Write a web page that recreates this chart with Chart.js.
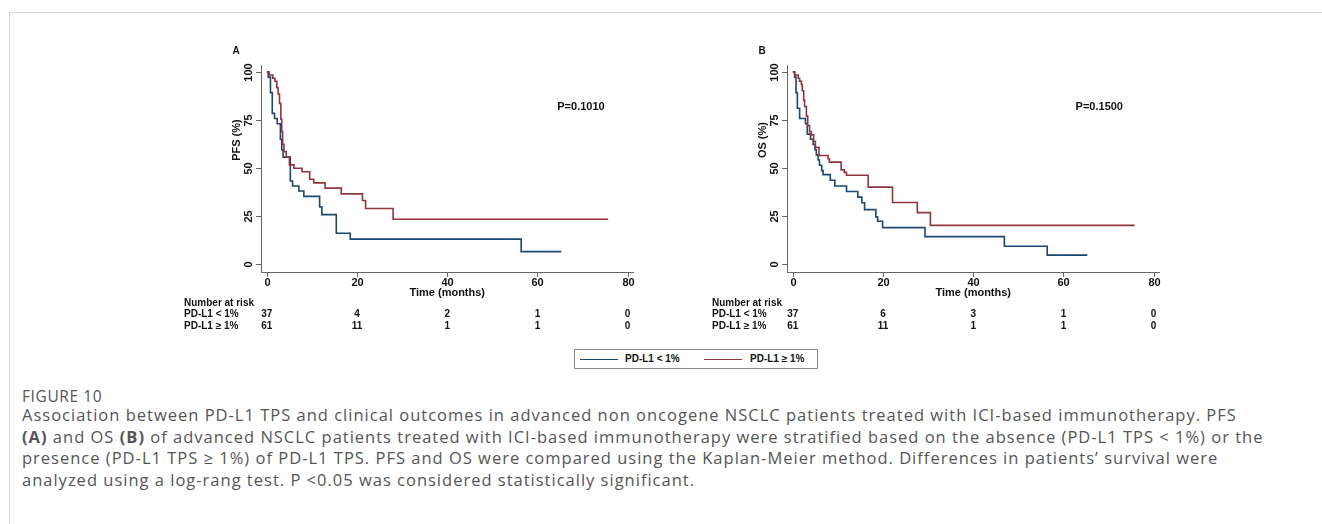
<!DOCTYPE html>
<html>
<head>
<meta charset="utf-8">
<script src="https://cdn.jsdelivr.net/npm/chart.js@4.4.0/dist/chart.umd.min.js"></script>
<style>
  body{margin:0;background:#fff;width:1322px;height:524px;overflow:hidden;position:relative;font-family:'Liberation Sans',Arial,sans-serif}
  #frame{position:absolute;left:9px;top:12px;width:1320px;height:520px;border-left:1px solid #d6d6d6;border-top:1px solid #d6d6d6}
  .panel{position:absolute;top:36px;width:500px;height:300px}
  #legend{position:absolute;left:574px;top:349px;width:242px;height:18px;border:1px solid #8a8a8a;font:bold 10px 'Liberation Sans',Arial,sans-serif;color:#111}
  #legend .ln{position:absolute;top:9px;width:38px;height:0;border-top:1.5px solid}
  #legend .tx{position:absolute;top:3px}
  .cap{position:absolute;left:22px;white-space:nowrap;font-family:'Open Sans',sans-serif;font-size:16.5px;letter-spacing:1px;line-height:22px;color:#555}
  #figno{position:absolute;left:22px;top:385px;font-family:'Open Sans',sans-serif;font-size:15.5px;letter-spacing:0.6px;line-height:22px;color:#555}
</style>
</head>
<body>
<div id="frame"></div>
<canvas id="pfs" class="panel" style="left:160px" width="500" height="300"></canvas>
<canvas id="os" class="panel" style="left:688px" width="500" height="300"></canvas>
<div id="legend">
  <div class="ln" style="left:5px;border-color:#1a476f"></div><div class="tx" style="left:50px">PD-L1 &lt; 1%</div>
  <div class="ln" style="left:129px;border-color:#90353b"></div><div class="tx" style="left:175px">PD-L1 ≥ 1%</div>
</div>
<div id="figno">FIGURE 10</div>
<div class="cap" style="top:404px">Association between PD-L1 TPS and clinical outcomes in advanced non oncogene NSCLC patients treated with ICI-based immunotherapy. PFS</div>
<div class="cap" style="top:426px"><b>(A)</b> and OS <b>(B)</b> of advanced NSCLC patients treated with ICI-based immunotherapy were stratified based on the absence (PD-L1 TPS &lt; 1%) or the</div>
<div class="cap" style="top:447px">presence (PD-L1 TPS ≥ 1%) of PD-L1 TPS. PFS and OS were compared using the Kaplan-Meier method. Differences in patients’ survival were</div>
<div class="cap" style="top:469px">analyzed using a log-rang test. P &lt;0.05 was considered statistically significant.</div>
<script>
// axis ticks
const timeTicks = [0, 20, 40, 60, 80];
const pctTicks = [0, 25, 50, 75, 100];
const groupNames = ['PD-L1 < 1%', 'PD-L1 ≥ 1%'];
const colLow = '#1a476f';
const colHigh = '#90353b';

// PFS, PD-L1 < 1%
const pfsLowTime = [0, 0.3, 0.8, 1.2, 1.7, 2.3, 3.0, 3.3, 3.6, 5.2, 5.7, 7.1, 8.2, 11.7, 12.2, 15.4, 18.5, 56.4, 65.3];
const pfsLowSurv = [100, 97.3, 89.2, 78.4, 75.7, 73.0, 64.9, 59.5, 55.6, 43.2, 40.6, 38.0, 35.2, 29.7, 25.7, 16.0, 12.9, 6.4, 6.4];
// PFS, PD-L1 >= 1%
const pfsHighTime = [0, 0.5, 1.3, 1.8, 2.2, 2.5, 2.8, 3.1, 3.3, 3.5, 3.8, 4.3, 5.0, 6.0, 7.8, 9.5, 10.4, 12.9, 16.5, 21.2, 21.9, 28.0, 75.7];
const pfsHighSurv = [100, 98.4, 96.7, 95.1, 91.8, 88.5, 83.6, 75.4, 68.9, 62.3, 58.5, 55.6, 51.6, 49.8, 48.0, 44.1, 42.2, 39.5, 36.5, 33.0, 28.9, 23.3, 23.3];
// OS, PD-L1 < 1%
const osLowTime = [0, 0.4, 0.7, 1.0, 1.5, 2.8, 3.2, 3.9, 4.5, 4.9, 5.2, 5.6, 5.9, 6.4, 6.7, 8.3, 9.3, 11.9, 14.4, 15.3, 15.9, 18.4, 18.8, 19.9, 29.3, 46.9, 56.4, 65.3];
const osLowSurv = [100, 97.3, 89.2, 81.1, 75.7, 73.0, 67.6, 64.9, 62.2, 59.5, 56.8, 54.1, 51.4, 48.6, 46.5, 43.6, 40.6, 37.7, 34.8, 31.9, 28.3, 24.5, 22.2, 18.9, 14.2, 9.2, 4.6, 4.6];
// OS, PD-L1 >= 1%
const osHighTime = [0, 0.4, 1.2, 1.5, 1.9, 2.1, 2.4, 2.6, 3.0, 3.3, 3.7, 4.1, 4.6, 5.0, 5.8, 7.8, 8.1, 10.7, 11.4, 11.9, 16.7, 22.1, 27.6, 30.5, 75.8];
const osHighSurv = [100, 98.4, 96.7, 95.1, 93.4, 90.2, 85.2, 82.0, 77.0, 72.1, 68.9, 67.2, 63.9, 60.7, 56.5, 54.8, 53.0, 49.0, 47.7, 46.2, 40.0, 32.0, 26.7, 20.1, 20.1];

// number at risk at 0, 20, 40, 60, 80
const pfsRiskLow = [37, 4, 2, 1, 0];
const pfsRiskHigh = [61, 11, 1, 1, 0];
const osRiskLow = [37, 6, 3, 1, 0];
const osRiskHigh = [61, 11, 1, 1, 0];

const axisColor = '#666';
const boldFont = 'bold 11px "Liberation Sans", Arial, sans-serif';

function pts(t, s) {
  return t.map((v, i) => ({x: v, y: s[i]}));
}

// draws ticks, titles, p value and the risk table off the chart scales
const kmDecor = {
  id: 'kmDecor',
  afterDraw(chart, args, o) {
    const ctx = chart.ctx;
    const area = chart.chartArea;
    const x = chart.scales.x, y = chart.scales.y;
    ctx.save();
    ctx.strokeStyle = axisColor;
    ctx.lineWidth = 1;
    ctx.fillStyle = '#111';
    ctx.font = boldFont;

    timeTicks.forEach(v => {
      const px = Math.round(x.getPixelForValue(v)) + 0.5;
      ctx.beginPath(); ctx.moveTo(px, area.bottom); ctx.lineTo(px, area.bottom + 5); ctx.stroke();
      ctx.textAlign = 'center'; ctx.textBaseline = 'middle';
      ctx.fillText(String(v), px, area.bottom + 11);
    });
    ctx.fillText('Time (months)', x.getPixelForValue(40), area.bottom + 21);

    pctTicks.forEach(v => {
      const py = Math.round(y.getPixelForValue(v)) + 0.5;
      ctx.beginPath(); ctx.moveTo(area.left - 5, py); ctx.lineTo(area.left, py); ctx.stroke();
      ctx.save();
      ctx.translate(area.left - 12, py);
      ctx.rotate(-Math.PI / 2);
      ctx.textAlign = 'center'; ctx.textBaseline = 'middle';
      ctx.fillText(String(v), 0, 0);
      ctx.restore();
    });
    ctx.save();
    ctx.translate(area.left - 24, y.getPixelForValue(64.5));
    ctx.rotate(-Math.PI / 2);
    ctx.textAlign = 'center'; ctx.textBaseline = 'middle';
    ctx.fillText(o.yTitle, 0, 0);
    ctx.restore();

    ctx.textAlign = 'center'; ctx.textBaseline = 'middle';
    ctx.font = 'bold 10px "Liberation Sans", Arial, sans-serif';
    ctx.fillText(o.letter, area.left - 25, area.top - 14);

    ctx.font = boldFont;
    ctx.textAlign = 'left';
    ctx.fillText(o.pText, x.getPixelForValue(o.pAt[0]), y.getPixelForValue(o.pAt[1]));

    // risk table
    ctx.font = 'bold 10px "Liberation Sans", Arial, sans-serif';
    ctx.fillText('Number at risk', 24, area.bottom + 31);
    ctx.fillText(groupNames[0], 24, area.bottom + 42.5);
    ctx.fillText(groupNames[1], 24, area.bottom + 54);
    ctx.textAlign = 'center';
    timeTicks.forEach((v, i) => {
      const px = x.getPixelForValue(v);
      ctx.fillText(String(o.riskLow[i]), px, area.bottom + 42.5);
      ctx.fillText(String(o.riskHigh[i]), px, area.bottom + 54);
    });
    ctx.restore();
  }
};

function drawKM(id, lowT, lowS, highT, highS, deco, pad) {
  const ctx = document.getElementById(id).getContext('2d');
  const hideScale = s => { if (s.isHorizontal()) s.height = 0; else s.width = 0; };
  return new Chart(ctx, {
    type: 'line',
    data: {
      datasets: [
        {label: groupNames[1], data: pts(highT, highS), borderColor: colHigh, borderWidth: 1.6, stepped: true, pointRadius: 0, fill: false},
        {label: groupNames[0], data: pts(lowT, lowS), borderColor: colLow, borderWidth: 1.6, stepped: true, pointRadius: 0, fill: false}
      ]
    },
    options: {
      responsive: false,
      animation: false,
      devicePixelRatio: 1,
      layout: {padding: pad},
      plugins: {legend: {display: false}, tooltip: {enabled: false}, kmDecor: deco},
      scales: {
        x: {type: 'linear', min: -1.3, max: 81.2, ticks: {display: false}, grid: {display: false},
            border: {display: true, color: axisColor, width: 1}, afterFit: hideScale},
        y: {min: -4.2, max: 103.6, ticks: {display: false}, grid: {display: false},
            border: {display: true, color: axisColor, width: 1}, afterFit: hideScale}
      }
    },
    plugins: [kmDecor]
  });
}

drawKM('pfs', pfsLowTime, pfsLowSurv, pfsHighTime, pfsHighSurv,
  {letter: 'A', yTitle: 'PFS (%)', pText: 'P=0.1010', pAt: [64.4, 81.8], riskLow: pfsRiskLow, riskHigh: pfsRiskHigh},
  {left: 101, top: 29, right: 27, bottom: 64});
drawKM('os', osLowTime, osLowSurv, osHighTime, osHighSurv,
  {letter: 'B', yTitle: 'OS (%)', pText: 'P=0.1500', pAt: [62.7, 81.8], riskLow: osRiskLow, riskHigh: osRiskHigh},
  {left: 99, top: 29, right: 29, bottom: 64});
</script>
</body>
</html>
